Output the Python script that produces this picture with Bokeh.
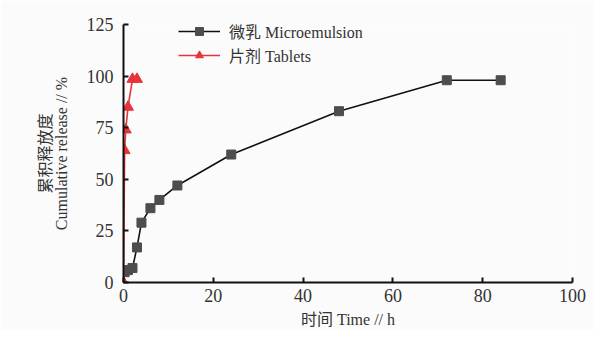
from bokeh.plotting import figure
from bokeh.models import Range1d, Legend, LegendItem, FixedTicker
from bokeh.embed import file_html
from bokeh.resources import INLINE

# Data
micro_time = [0.25, 1, 2, 3, 4, 6, 8, 12, 24, 48, 72, 84]
micro_release = [5, 6, 7, 17, 29, 36, 40, 47, 62, 83, 98, 98]
tab_time = [0, 0.25, 0.5, 1, 2, 3]
tab_release = [0, 64, 74, 85, 98.5, 98.5]
x_ticks = [0, 20, 40, 60, 80, 100]
y_ticks = [0, 25, 50, 75, 100, 125]
micro_label = "微乳 Microemulsion"
tab_label = "片剂 Tablets"
x_label = "时间 Time // h"
y_label = "累积释放度\nCumulative release // %"

LAT = "'Liberation Serif', 'Noto Sans CJK SC'"

p = figure(width=594, height=330, output_backend="svg", toolbar_location=None,
           x_range=Range1d(0, 100), y_range=Range1d(0, 125),
           min_border_left=123, min_border_right=22, min_border_top=24, min_border_bottom=44)
p.background_fill_color = "#fbfbfb"
p.border_fill_color = "#fbfbfb"
p.outline_line_color = None
p.xgrid.grid_line_color = None
p.ygrid.grid_line_color = None

r1 = p.line(micro_time, micro_release, line_color="#111111", line_width=1.6)
s1 = p.scatter(micro_time, micro_release, marker="square", size=9, fill_color="#4d4d4d", line_color="#4d4d4d")
r2 = p.line(tab_time, tab_release, line_color="#e8333b", line_width=1.6)
s2 = p.scatter(tab_time, tab_release, marker="triangle", size=11, fill_color="#e8333b", line_color="#e8333b")

for ax in (p.xaxis[0], p.yaxis[0]):
    ax.axis_line_width = 2
    ax.axis_line_color = "#111111"
    ax.major_tick_line_width = 2
    ax.major_tick_line_color = "#111111"
    ax.major_tick_in = 5
    ax.major_tick_out = 0
    ax.minor_tick_line_color = None
    ax.major_label_text_font = LAT
    ax.major_label_text_font_size = "18px"
    ax.major_label_text_color = "#333333"
    ax.axis_label_text_font = LAT
    ax.axis_label_text_font_size = "16px"
    ax.axis_label_text_font_style = "normal"
    ax.axis_label_text_color = "#333333"

p.xaxis.ticker = FixedTicker(ticks=x_ticks)
p.yaxis.ticker = FixedTicker(ticks=y_ticks)
p.xaxis.major_label_standoff = 6
p.yaxis.major_label_standoff = 10
p.xaxis.axis_label = x_label
p.yaxis.axis_label = y_label
p.yaxis.axis_label_text_line_height = 0.9
p.xaxis.axis_label_standoff = 6
p.yaxis.axis_label_standoff = 14

legend = Legend(items=[LegendItem(label=micro_label, renderers=[r1, s1]),
                       LegendItem(label=tab_label, renderers=[r2, s2])],
                location=(55, 215))
legend.background_fill_alpha = 0
legend.border_line_color = None
legend.padding = 0
legend.margin = 0
legend.spacing = -2
legend.glyph_width = 42
legend.glyph_height = 20
legend.label_height = 20
legend.label_standoff = 9
legend.label_text_font = LAT
legend.label_text_font_size = "16px"
legend.label_text_color = "#333333"
p.add_layout(legend)

open("out.html", "w").write(file_html(p, INLINE))
